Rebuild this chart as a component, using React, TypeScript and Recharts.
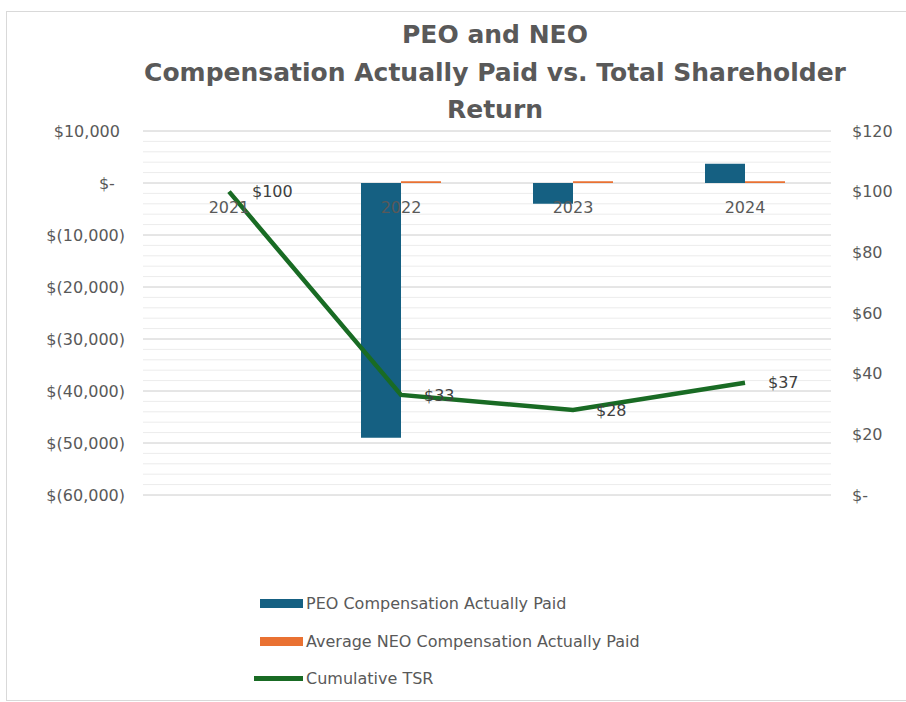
import React from 'react';
import { ComposedChart, Bar, Line, XAxis, YAxis, CartesianGrid, LabelList, Legend } from 'recharts';

const years = ['2021', '2022', '2023', '2024'];
const peoCap: (number | null)[] = [null, -49000, -4000, 3700];
const neoCap: (number | null)[] = [null, 350, 350, 350];
const cumulativeTsr = [100, 33, 28, 37];

const leftTicks = [10000, 0, -10000, -20000, -30000, -40000, -50000, -60000];
const rightTicks = [0, 20, 40, 60, 80, 100, 120];
const minorGridValues: number[] = [];
for (let v = -60000; v <= 10000; v += 2000) minorGridValues.push(v);

const titleLines = ['PEO and NEO', 'Compensation Actually Paid vs. Total Shareholder', 'Return'];
const seriesNames = ['PEO Compensation Actually Paid', 'Average NEO Compensation Actually Paid', 'Cumulative TSR'];
const seriesColors = ['#156082', '#E97132', '#196B24'];

const data = years.map((year, i) => ({
  year,
  peo: peoCap[i],
  neo: neoCap[i],
  tsr: cumulativeTsr[i],
  axis: 0,
}));

const FONT = '"DejaVu Sans", sans-serif';

const fmtLeft = (v: number) => {
  if (v === 0) return '$-\u00A0\u00A0';
  if (v > 0) return `$${v.toLocaleString('en-US')}\u00A0`;
  return `$(${Math.abs(v).toLocaleString('en-US')})`;
};
const fmtRight = (v: number) => (v === 0 ? '$-' : `$${v}`);

const LegendContent = () => (
  <div style={{ fontFamily: FONT, fontSize: 16, color: '#595959' }}>
    {seriesNames.map((name, i) => (
      <div key={name} style={{ display: 'flex', alignItems: 'center', height: 37.5 }}>
        <div style={{ width: 52, display: 'flex', justifyContent: 'flex-end', alignItems: 'center' }}>
          <div
            style={{
              width: i === 2 ? 49 : 43,
              height: i === 2 ? 5 : 9,
              background: seriesColors[i],
              marginRight: 3,
            }}
          />
        </div>
        <span>{name}</span>
      </div>
    ))}
  </div>
);

export default function App() {
  return (
    <div style={{ position: 'absolute', left: 0, top: 0, width: 906, height: 702, overflow: 'hidden', background: '#fff' }}>
      <div
        style={{
          position: 'absolute',
          left: 6,
          top: 11,
          width: 899,
          height: 688,
          borderLeft: '1px solid #d9d9d9',
          borderTop: '1px solid #d9d9d9',
          borderBottom: '1px solid #d9d9d9',
        }}
      />
      <div
        style={{
          position: 'absolute',
          left: 95,
          width: 800,
          top: 16,
          textAlign: 'center',
          fontFamily: FONT,
          fontWeight: 'bold',
          fontSize: 25,
          lineHeight: '37.5px',
          color: '#595959',
        }}
      >
        {titleLines.map((t) => (
          <div key={t}>{t}</div>
        ))}
      </div>
      <div style={{ position: 'absolute', left: 0, top: 0 }}>
        <ComposedChart
          width={906}
          height={702}
          data={data}
          margin={{ top: 131, right: 0, bottom: 207, left: 0 }}
          barGap={0}
          style={{ fontFamily: FONT }}
        >
          <CartesianGrid yAxisId="left" horizontalValues={minorGridValues} vertical={false} stroke="#ececec" strokeWidth={1} />
          <CartesianGrid yAxisId="left" horizontalValues={leftTicks} vertical={false} stroke="#d6d6d6" strokeWidth={1} />
          <XAxis dataKey="year" hide />
          <YAxis
            yAxisId="left"
            orientation="left"
            width={143}
            domain={[-60000, 10000]}
            ticks={leftTicks}
            tickFormatter={fmtLeft}
            axisLine={false}
            tickLine={false}
            tickSize={0}
            tickMargin={18}
            interval={0}
            tick={{ fill: '#595959', fontSize: 16, fontFamily: FONT }}
          />
          <YAxis
            yAxisId="right"
            orientation="right"
            width={75}
            domain={[0, 120]}
            ticks={rightTicks}
            tickFormatter={fmtRight}
            axisLine={false}
            tickLine={false}
            tickSize={0}
            tickMargin={21}
            interval={0}
            tick={{ fill: '#595959', fontSize: 16, fontFamily: FONT }}
          />
          <Line
            yAxisId="left"
            dataKey="axis"
            stroke="none"
            dot={false}
            activeDot={false}
            legendType="none"
            isAnimationActive={false}
          >
            <LabelList dataKey="year" position="bottom" offset={19} fill="#595959" fontSize={16} fontFamily={FONT} />
          </Line>
          <Bar yAxisId="left" dataKey="peo" name={seriesNames[0]} fill={seriesColors[0]} barSize={40} isAnimationActive={false} />
          <Bar yAxisId="left" dataKey="neo" name={seriesNames[1]} fill={seriesColors[1]} barSize={40} isAnimationActive={false} />
          <Line
            yAxisId="right"
            dataKey="tsr"
            name={seriesNames[2]}
            type="linear"
            stroke={seriesColors[2]}
            strokeWidth={4.5}
            dot={false}
            activeDot={false}
            isAnimationActive={false}
          >
            <LabelList
              dataKey="tsr"
              position="right"
              offset={23}
              formatter={(v: any) => `$${v}`}
              fill="#404040"
              fontSize={16}
              fontFamily={FONT}
            />
          </Line>
          <Legend
            layout="vertical"
            align="center"
            verticalAlign="middle"
            content={<LegendContent />}
            wrapperStyle={{ position: 'absolute', left: 254, top: 585, width: 520 }}
          />
        </ComposedChart>
      </div>
    </div>
  );
}
